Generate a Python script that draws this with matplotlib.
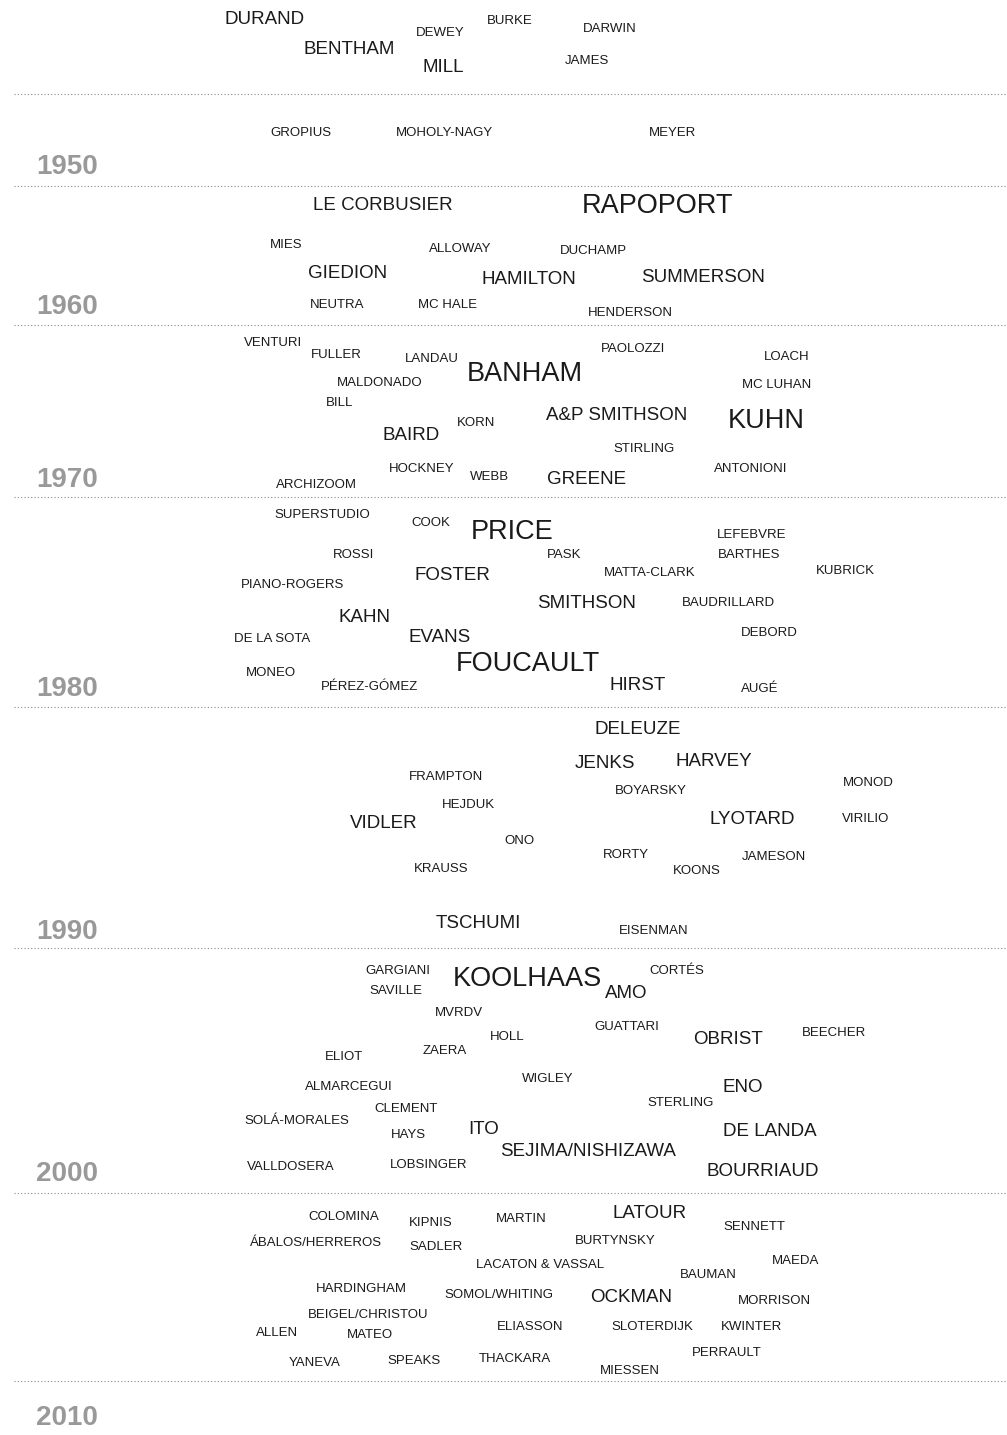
import matplotlib.pyplot as plt

plt.rcParams['font.family'] = ['Liberation Sans', 'DejaVu Sans']

# decade separators (layout y on the page) and their labels
decades = ['1950', '1960', '1970', '1980', '1990', '2000', '2010']
decade_label_y = [164, 304, 477, 686, 929, 1171, 1415]
line_y = [94, 186, 325, 497, 707, 948, 1193, 1381]

# names, layout position and weight (1 = few mentions, 3 = many)
names = [
    'DURAND', 'BENTHAM', 'DEWEY', 'MILL', 'BURKE', 'DARWIN', 'JAMES',
    'GROPIUS', 'MOHOLY-NAGY', 'MEYER',
    'LE CORBUSIER', 'RAPOPORT', 'MIES', 'ALLOWAY', 'DUCHAMP', 'GIEDION',
    'HAMILTON', 'SUMMERSON', 'NEUTRA', 'MC HALE', 'HENDERSON',
    'VENTURI', 'FULLER', 'LANDAU', 'BANHAM', 'PAOLOZZI', 'LOACH', 'MALDONADO',
    'MC LUHAN', 'BILL', 'A&P SMITHSON', 'KUHN', 'KORN', 'BAIRD', 'STIRLING',
    'HOCKNEY', 'WEBB', 'GREENE', 'ANTONIONI', 'ARCHIZOOM',
    'SUPERSTUDIO', 'COOK', 'PRICE', 'LEFEBVRE', 'PASK', 'BARTHES', 'ROSSI',
    'MATTA-CLARK', 'KUBRICK', 'PIANO-ROGERS', 'FOSTER', 'SMITHSON',
    'BAUDRILLARD', 'KAHN', 'DE LA SOTA', 'EVANS', 'DEBORD', 'FOUCAULT',
    'MONEO', 'PÉREZ-GÓMEZ', 'HIRST', 'AUGÉ',
    'DELEUZE', 'JENKS', 'HARVEY', 'FRAMPTON', 'MONOD', 'BOYARSKY', 'HEJDUK',
    'VIDLER', 'LYOTARD', 'VIRILIO', 'ONO', 'RORTY', 'JAMESON', 'KRAUSS',
    'KOONS', 'TSCHUMI', 'EISENMAN',
    'GARGIANI', 'KOOLHAAS', 'CORTÉS', 'SAVILLE', 'AMO', 'MVRDV', 'GUATTARI',
    'HOLL', 'OBRIST', 'BEECHER', 'ZAERA', 'ELIOT', 'WIGLEY', 'ALMARCEGUI',
    'ENO', 'STERLING', 'CLEMENT', 'SOLÁ-MORALES', 'ITO', 'HAYS', 'DE LANDA',
    'SEJIMA/NISHIZAWA', 'VALLDOSERA', 'LOBSINGER', 'BOURRIAUD',
    'COLOMINA', 'KIPNIS', 'MARTIN', 'LATOUR', 'SENNETT', 'ÁBALOS/HERREROS',
    'SADLER', 'BURTYNSKY', 'LACATON & VASSAL', 'MAEDA', 'BAUMAN',
    'HARDINGHAM', 'SOMOL/WHITING', 'OCKMAN', 'MORRISON', 'BEIGEL/CHRISTOU',
    'ALLEN', 'MATEO', 'ELIASSON', 'SLOTERDIJK', 'KWINTER', 'PERRAULT',
    'YANEVA', 'SPEAKS', 'THACKARA', 'MIESSEN',
]
xs = [
    265, 349, 440, 443, 510, 610, 587,
    301, 444, 673,
    383, 658, 286, 460, 593, 348,
    529, 703, 337, 447, 630,
    273, 336, 432, 525, 633, 787, 380,
    777, 340, 617, 766, 476, 411, 644,
    422, 489, 587, 751, 316,
    322, 431, 512, 752, 564, 749, 354,
    650, 845, 293, 452, 587,
    728, 365, 272, 440, 769, 528,
    271, 369, 638, 760,
    638, 605, 714, 446, 868, 651, 468,
    384, 752, 866, 519, 626, 774, 441,
    697, 478, 654,
    398, 527, 677, 396, 626, 459, 627,
    507, 728, 834, 445, 344, 548, 349,
    743, 681, 406, 297, 484, 408, 770,
    588, 291, 429, 763,
    344, 431, 521, 650, 754, 316,
    436, 615, 540, 796, 708,
    361, 499, 631, 774, 368,
    277, 370, 530, 652, 751, 727,
    315, 414, 515, 630,
]
ys = [
    18, 47, 31, 65, 19, 27, 59,
    131, 131, 131,
    203, 203, 243, 247, 249, 272,
    278, 276, 304, 304, 312,
    341, 354, 357, 371, 347, 355, 382,
    383, 402, 413, 418, 421, 433, 447,
    467, 476, 478, 467, 484,
    513, 522, 529, 534, 554, 554, 553,
    571, 569, 584, 574, 601,
    602, 616, 637, 635, 632, 661,
    672, 686, 684, 688,
    728, 762, 760, 775, 781, 790, 803,
    822, 817, 818, 840, 853, 856, 868,
    869, 921, 930,
    969, 976, 970, 990, 992, 1011, 1026,
    1036, 1038, 1031, 1050, 1055, 1077, 1086,
    1086, 1102, 1108, 1119, 1128, 1134, 1129,
    1150, 1166, 1163, 1170,
    1215, 1222, 1217, 1212, 1225, 1242,
    1245, 1240, 1263, 1259, 1273,
    1287, 1294, 1296, 1300, 1313,
    1331, 1333, 1326, 1325, 1325, 1351,
    1362, 1359, 1358, 1370,
]
weights = [
    2, 2, 1, 2, 1, 1, 1,
    1, 1, 1,
    2, 3, 1, 1, 1, 2,
    2, 2, 1, 1, 1,
    1, 1, 1, 3, 1, 1, 1,
    1, 1, 2, 3, 1, 2, 1,
    1, 1, 2, 1, 1,
    1, 1, 3, 1, 1, 1, 1,
    1, 1, 1, 2, 2,
    1, 2, 1, 2, 1, 3,
    1, 1, 2, 1,
    2, 2, 2, 1, 1, 1, 1,
    2, 2, 1, 1, 1, 1, 1,
    1, 2, 1,
    1, 3, 1, 1, 2, 1, 1,
    1, 2, 1, 1, 1, 1, 1,
    2, 1, 1, 1, 2, 1, 2,
    2, 1, 1, 2,
    1, 1, 1, 2, 1, 1,
    1, 1, 1, 1, 1,
    1, 1, 2, 1, 1,
    1, 1, 1, 1, 1, 1,
    1, 1, 1, 1,
]

font_for_weight = {1: 9.5, 2: 13.5, 3: 19.5}

fig = plt.figure(figsize=(10.07, 14.35), dpi=100)
ax = fig.add_axes([0, 0, 1, 1])
ax.set_xlim(0, 1007)
ax.set_ylim(1435, 0)
ax.axis('off')

for y in line_y:
    ax.plot([14, 1007], [y, y], color='#8a8a8a', lw=0.8, linestyle=(0, (1, 2)))

for lab, y in zip(decades, decade_label_y):
    ax.text(36, y, lab, fontsize=20, fontweight='bold', color='#999999',
            ha='left', va='center_baseline')

for n, x, y, w in zip(names, xs, ys, weights):
    ax.text(x, y, n, fontsize=font_for_weight[w], color='#1a1a1a',
            ha='center', va='center_baseline')

plt.savefig('out.png', dpi=100)
